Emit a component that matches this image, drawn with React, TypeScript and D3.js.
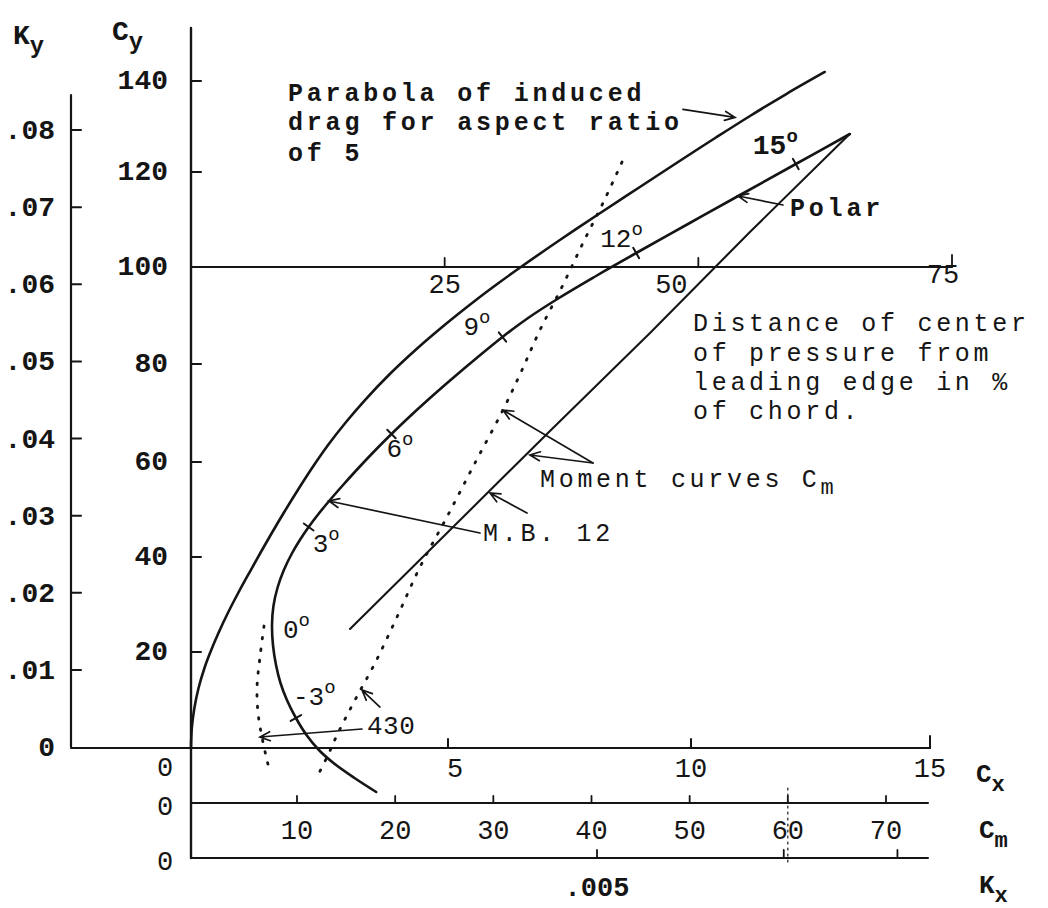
import React from 'react';
import * as d3 from 'd3';

// polar of M.B. 12, [Cx, Cy]
const polar: [number, number][] = [
  [3.603, -9.167], [3.181, -6.25], [2.772, -3.125], [2.488, -0.417], [2.247, 2.708],
  [2.041, 6.25], [1.866, 10.0], [1.741, 13.542], [1.654, 17.292], [1.595, 21.474],
  [1.576, 25.684], [1.604, 29.684], [1.687, 33.684], [1.807, 37.263], [1.968, 40.842],
  [2.118, 43.579], [2.289, 46.316], [2.472, 48.947], [2.671, 51.579], [2.941, 54.947],
  [3.222, 58.316], [3.496, 61.429], [3.782, 64.49], [4.183, 68.571], [4.607, 72.653],
  [5.078, 76.939], [5.59, 81.237], [6.121, 85.567], [6.648, 89.485], [7.284, 93.608],
  [8.046, 98.144], [8.872, 102.947], [9.938, 109.053], [11.026, 115.158],
  [12.155, 121.538], [13.323, 128.352]
];

// parabola of induced drag, aspect ratio 5, [Cx, Cy]
const parabola: [number, number][] = [
  [0, 0], [0.016, 4.17], [0.066, 8.33], [0.147, 12.5], [0.262, 16.67], [0.37, 19.79],
  [0.534, 24.0], [0.717, 28.21], [0.918, 32.42], [1.131, 36.63], [1.349, 40.84],
  [1.572, 45.05], [1.826, 49.68], [2.091, 54.32], [2.368, 58.95], [2.667, 63.47],
  [3.017, 68.16], [3.385, 72.65], [3.849, 77.76], [4.367, 82.89], [4.934, 88.04],
  [5.576, 93.2], [6.013, 96.49], [6.499, 100.0], [7.302, 105.68], [8.102, 111.16],
  [8.948, 116.84], [9.797, 122.64], [10.506, 127.47], [11.234, 132.31],
  [11.993, 137.14], [12.799, 141.98]
];

// moment curves, [Cm, Cy]
const momentSolid: [number, number][] = [
  [15.4, 24.84], [25.59, 45.68], [35.77, 66.33], [45.96, 86.39], [56.14, 107.37], [66.3, 128.35]
];
const momentDotted: [number, number][] = [
  [43.11, 122.2], [41.17, 113.47], [39.13, 105.05], [36.99, 95.88], [34.75, 87.01],
  [32.92, 78.78], [30.98, 70.61], [28.13, 59.79], [25.38, 48.84], [22.53, 37.89],
  [20.19, 27.37], [17.95, 17.71], [15.91, 10.0], [14.18, 3.13], [13.16, -1.46], [12.14, -5.63]
];
const moment430: [number, number][] = [
  [6.64, 25.47], [6.23, 18.96], [5.93, 12.71], [6.03, 7.29], [6.43, 2.29], [6.94, -2.5], [7.25, -5.0]
];

// angles of attack along the polar
const angles = [-3, 0, 3, 6, 9, 12, 15];
const angleCx = [2.041, 1.576, 2.289, 3.9, 6.121, 8.872, 12.192];
const angleCy = [6.25, 25.684, 46.316, 65.714, 85.567, 102.947, 121.758];
const angleTicked = [true, false, true, true, true, true, true];

// axis ticks
const cyTicks = [20, 40, 60, 80, 100, 120, 140];
const kyTicks = [0.01, 0.02, 0.03, 0.04, 0.05, 0.06, 0.07, 0.08];
const kyLabels = ['.01', '.02', '.03', '.04', '.05', '.06', '.07', '.08'];
const cxTicks = [5, 10, 15];
const cmTicks = [10, 20, 30, 40, 50, 60, 70];
const kxTicks = [0.005];
const kxLabels = ['.005'];
const kxMinor = [0.0073, 0.0087];
const cpTicks = [25, 50, 75];

const x = d3.scaleLinear().domain([0, 5, 10, 15]).range([191, 448, 691, 930]);
const y = d3.scaleLinear().domain([0, 20, 40, 60, 80, 100, 120, 140]).range([748, 652, 557, 462, 364, 267, 172, 81]);
const ky = d3.scaleLinear().domain([0, 0.08]).range([747, 130]);
const cm = d3.scaleLinear().domain([10, 70]).range([297, 886]);
const kx = d3.scaleLinear().domain([0, 0.005]).range([191, 597]);
const cp = d3.scaleLinear().domain([0, 75]).range([191, 952]);

const INK = '#151515';
const FONT = "'Liberation Mono', 'Courier New', monospace";
const CM_Y = 803;
const KX_Y = 858;
const KY_X = 71;

function curve(sx: any, sy: any) {
  return d3.line<[number, number]>()
    .x(d => sx(d[0]))
    .y(d => sy(d[1]))
    .curve(d3.curveCatmullRom.alpha(0.5));
}

function arrowPath(x1: number, y1: number, x2: number, y2: number) {
  const a = Math.atan2(y2 - y1, x2 - x1);
  const L = 11, s = 0.42;
  const w1 = [x2 - L * Math.cos(a - s), y2 - L * Math.sin(a - s)];
  const w2 = [x2 - L * Math.cos(a + s), y2 - L * Math.sin(a + s)];
  return `M${x1},${y1}L${x2},${y2}M${w1[0]},${w1[1]}L${x2},${y2}L${w2[0]},${w2[1]}`;
}

// arrows: target on a curve (data units) and tail offset in px
const arrows = [
  { sx: x, v: [10.92, 132.0], d: [-52, -8] },
  { sx: x, v: [10.983, 114.947], d: [45, 9] },
  { sx: x, v: [2.685, 51.79], d: [151, 32] },
  { sx: cm, v: [29.66, 53.47], d: [37, 20] },
  { sx: cm, v: [30.98, 70.61], d: [90, 53] },
  { sx: cm, v: [33.73, 61.43], d: [63, 8] },
  { sx: cm, v: [6.23, 2.29], d: [102, -8] },
  { sx: cm, v: [16.62, 12.08], d: [18, 17] }
];

// label offsets for angle marks, px from the mark
const angleOffsets = [[-3, -13], [11, 13], [4, 25], [-5, 23], [-39, -2], [-36, -6], [-43, -10]];

const Sub = ({ x: tx, y: ty, main, sub, size = 28 }: any) => (
  <text x={tx} y={ty} fontFamily={FONT} fontSize={size} fontWeight="bold" fill={INK}>
    {main}
    <tspan dy={9} fontSize={size * 0.85}>{sub}</tspan>
  </text>
);

export default function App() {
  const polarLine = curve(x, y);
  const polarPx = polar.map(d => [x(d[0]), y(d[1])]);

  const angleMarks = angles.map((a, i) => {
    const px = x(angleCx[i]);
    const py = y(angleCy[i]);
    let best = 1;
    let bd = Infinity;
    polarPx.forEach((p, j) => {
      const dd = (p[0] - px) ** 2 + (p[1] - py) ** 2;
      if (dd < bd && j > 0 && j < polarPx.length - 1) { bd = dd; best = j; }
    });
    const p0 = polarPx[best - 1], p1 = polarPx[best + 1];
    const len = Math.hypot(p1[0] - p0[0], p1[1] - p0[1]);
    const nx = -(p1[1] - p0[1]) / len, ny = (p1[0] - p0[0]) / len;
    return { a, px, py, nx, ny, ticked: angleTicked[i], off: angleOffsets[i] };
  });

  const txt = { fontFamily: FONT, fill: INK } as const;

  return (
    <svg width={1048} height={908} style={{ position: 'absolute', left: 0, top: 0, background: '#fff' }}>
      <rect width={1048} height={908} fill="#fff" />
      <g stroke={INK} fill="none" strokeLinecap="round">
        {/* Ky axis */}
        <line x1={KY_X} y1={95} x2={KY_X} y2={ky(0)} strokeWidth={2.2} />
        {kyTicks.map(t => (
          <line key={'ky' + t} x1={KY_X} x2={KY_X + 10} y1={ky(t)} y2={ky(t)} strokeWidth={2} />
        ))}
        {/* Cy axis */}
        <line x1={x(0)} y1={28} x2={x(0)} y2={KX_Y} strokeWidth={2.4} />
        {cyTicks.map(t => (
          <line key={'cy' + t} x1={x(0)} x2={x(0) + 10} y1={y(t)} y2={y(t)} strokeWidth={2} />
        ))}
        {/* Cx axis */}
        <line x1={KY_X} y1={y(0)} x2={x(15)} y2={y(0)} strokeWidth={2.2} />
        {cxTicks.map(t => (
          <line key={'cx' + t} x1={x(t)} x2={x(t)} y1={y(0)} y2={y(0) - (t === 15 ? 12 : 9)} strokeWidth={2} />
        ))}
        {/* Cm axis */}
        <line x1={x(0)} y1={CM_Y} x2={928} y2={CM_Y} strokeWidth={2} />
        {cmTicks.map(t => (
          <line key={'cm' + t} x1={cm(t)} x2={cm(t)} y1={CM_Y} y2={CM_Y - 7} strokeWidth={1.8} />
        ))}
        <line x1={cm(60)} x2={cm(60)} y1={788} y2={866} strokeWidth={1.2} strokeDasharray="2 4" />
        {/* Kx axis */}
        <line x1={x(0)} y1={KX_Y} x2={928} y2={KX_Y} strokeWidth={2} />
        {kxTicks.concat(kxMinor).map(t => (
          <line key={'kx' + t} x1={kx(t)} x2={kx(t)} y1={KX_Y} y2={KX_Y - 8} strokeWidth={1.8} />
        ))}
        {/* centre of pressure scale on Cy = 100 */}
        <line x1={x(0)} y1={y(100)} x2={cp(75)} y2={y(100)} strokeWidth={1.8} />
        {cpTicks.map(t => (
          <line key={'cp' + t} x1={cp(t)} x2={cp(t)} y1={y(100)} y2={y(100) - (t === 75 ? 12 : 9)} strokeWidth={1.8} />
        ))}

        {/* curves */}
        <path d={curve(x, y)(parabola) || ''} strokeWidth={2.6} />
        <path d={polarLine(polar) || ''} strokeWidth={2.6} />
        <path d={d3.line<[number, number]>().x(d => cm(d[0])).y(d => y(d[1]))(momentSolid) || ''} strokeWidth={2.1} />
        <path d={curve(cm, y)(momentDotted) || ''} strokeWidth={2.8} strokeDasharray="1.5 10" />
        <path d={curve(cm, y)(moment430) || ''} strokeWidth={2.8} strokeDasharray="1.5 10" />

        {angleMarks.filter(m => m.ticked).map(m => (
          <line key={'at' + m.a} x1={m.px - m.nx * 6} y1={m.py - m.ny * 6} x2={m.px + m.nx * 6} y2={m.py + m.ny * 6} strokeWidth={2} />
        ))}

        {arrows.map((ar, i) => {
          const hx = ar.sx(ar.v[0]);
          const hy = y(ar.v[1]);
          return <path key={'ar' + i} d={arrowPath(hx + ar.d[0], hy + ar.d[1], hx, hy)} strokeWidth={1.7} />;
        })}
      </g>

      {/* axis titles */}
      <Sub x={13} y={44} main="K" sub="y" />
      <Sub x={112} y={40} main="C" sub="y" />
      <Sub x={976} y={782} main="C" sub="x" size={26} />
      <Sub x={979} y={838} main="C" sub="m" size={26} />
      <Sub x={979} y={893} main="K" sub="x" size={26} />

      {/* tick labels */}
      <g {...txt} fontSize={28} fontWeight="bold">
        {cyTicks.map(t => (
          <text key={'cyl' + t} x={168} y={y(t) + 8} textAnchor="end">{t}</text>
        ))}
        {kyTicks.map((t, i) => (
          <text key={'kyl' + t} x={55} y={ky(t) + 9} textAnchor="end">{kyLabels[i]}</text>
        ))}
        <text x={55} y={ky(0) + 9} textAnchor="end">0</text>
      </g>
      <g {...txt} fontSize={27}>
        <text x={165} y={776} textAnchor="middle">0</text>
        <text x={165} y={815} textAnchor="middle">0</text>
        <text x={165} y={870} textAnchor="middle">0</text>
        {cxTicks.map(t => (
          <text key={'cxl' + t} x={x(t) + (t === 5 ? 7 : 0)} y={777} textAnchor="middle">{t}</text>
        ))}
        {cmTicks.map(t => (
          <text key={'cml' + t} x={cm(t)} y={839} textAnchor="middle">{t}</text>
        ))}
        {kxTicks.map((t, i) => (
          <text key={'kxl' + t} x={kx(t)} y={896} textAnchor="middle" fontWeight="bold">{kxLabels[i]}</text>
        ))}
        {cpTicks.map(t => (
          <text key={'cpl' + t} x={cp(t) - (t === 50 ? 27 : t === 75 ? 9 : 0)} y={y(100) + (t === 75 ? 16 : 26)} textAnchor="middle">{t}</text>
        ))}
      </g>

      {/* angle labels */}
      <g {...txt} fontSize={26}>
        {angleMarks.map(m => (
          <text key={'al' + m.a} x={m.px + m.off[0]} y={m.py + m.off[1]}
            fontWeight={m.a === 15 ? 'bold' : 'normal'} fontSize={m.a === 15 ? 28 : 26}>
            {m.a < 0 ? '-' + Math.abs(m.a) : m.a}
            <tspan dy={-12} fontSize={19}>o</tspan>
          </text>
        ))}
      </g>

      {/* annotations */}
      <g {...txt} fontSize={25} letterSpacing={3.8} fontWeight="bold">
        <text x={288} y={101}>Parabola of induced</text>
        <text x={288} y={130}>drag for aspect ratio</text>
        <text x={288} y={161}>of 5</text>
        <text x={790} y={216}>Polar</text>
      </g>
      <g {...txt} fontSize={25} letterSpacing={3.7}>
        <text x={693} y={331}>Distance of center</text>
        <text x={693} y={361}>of pressure from</text>
        <text x={693} y={390}>leading edge in %</text>
        <text x={693} y={419}>of chord.</text>
        <text x={540} y={487}>Moment curves C<tspan dy={7} fontSize={22}>m</tspan></text>
        <text x={483} y={541}>M.B. 12</text>
        <text x={367} y={734} letterSpacing={0.5} fontSize={26}>430</text>
      </g>
    </svg>
  );
}
